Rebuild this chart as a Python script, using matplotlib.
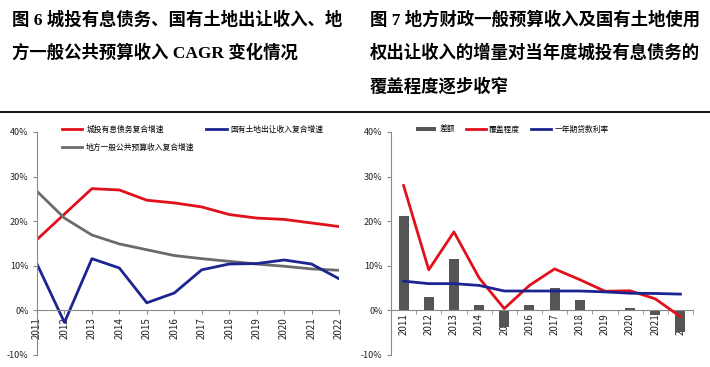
import matplotlib

matplotlib.use("Agg")
import matplotlib.pyplot as plt
import numpy as np
from matplotlib.ticker import FuncFormatter

plt.rcParams["font.family"] = ["Noto Sans CJK SC", "DejaVu Sans"]

years = ["2011", "2012", "2013", "2014", "2015", "2016",
         "2017", "2018", "2019", "2020", "2021", "2022"]

# 图6: CAGR (%)
debt_cagr = [15.9, 21.6, 27.3, 27.0, 24.7, 24.1, 23.2, 21.5, 20.7, 20.4, 19.6, 18.8]
land_cagr = [10.4, -2.7, 11.6, 9.5, 1.7, 3.9, 9.1, 10.4, 10.5, 11.3, 10.4, 7.1]
budget_cagr = [26.7, 20.7, 16.9, 14.9, 13.6, 12.3, 11.6, 11.0, 10.4, 9.9, 9.3, 9.0]

# 图7 (%)
gap = [21.2, 3.0, 11.6, 1.3, -3.7, 1.3, 5.0, 2.4, 0.05, 0.5, -1.1, -4.8]
coverage = [28.0, 9.1, 17.6, 7.3, 0.4, 5.6, 9.3, 6.9, 4.3, 4.4, 2.6, -1.4]
loan_rate = [6.56, 6.0, 6.0, 5.6, 4.35, 4.35, 4.35, 4.35, 4.15, 3.85, 3.80, 3.65]

RED = "#e0101c"
BLUE = "#1c2490"
GRAY = "#6b6b6b"
BAR = "#555555"
AXIS = "#8a8a8a"

title_font = dict(family=["Liberation Serif", "Noto Sans CJK SC"],
                  fontweight="bold", fontsize=12.5, color="black", va="center")

fig = plt.figure(figsize=(7.1, 3.67), dpi=100)
W, H = 710, 367


def fy(py):
    return 1 - py / H


fig.text(12 / W, fy(20), "图 6 城投有息债务、国有土地出让收入、地", **title_font)
fig.text(12 / W, fy(53), "方一般公共预算收入 CAGR 变化情况", **title_font)
fig.text(370 / W, fy(20), "图 7 地方财政一般预算收入及国有土地使用", **title_font)
fig.text(370 / W, fy(53), "权出让收入的增量对当年度城投有息债务的", **title_font)
fig.text(370 / W, fy(87), "覆盖程度逐步收窄", **title_font)

fig.add_artist(plt.Line2D([0, 1], [fy(112), fy(112)], color="black", lw=1.3))

pct = FuncFormatter(lambda v, p: f"{v:.0f}%")


def style_axes(ax):
    for s in ("top", "right"):
        ax.spines[s].set_visible(False)
    ax.spines["left"].set_color(AXIS)
    ax.spines["bottom"].set_color(AXIS)
    ax.spines["bottom"].set_position(("data", 0))
    ax.set_ylim(-10, 40)
    ax.set_yticks([-10, 0, 10, 20, 30, 40])
    ax.yaxis.set_major_formatter(pct)
    ax.tick_params(axis="y", labelsize=6.5, direction="out", length=3,
                   color=AXIS, labelcolor="#222222", pad=3)
    ax.tick_params(axis="x", labelsize=7, labelrotation=90, direction="out",
                   length=3, color=AXIS, labelcolor="#222222", pad=2)
    ax.set_facecolor("none")


# left chart
ax1 = fig.add_axes([37 / W, fy(355), (339 - 37) / W, (355 - 132) / H])
x = np.arange(len(years))
ax1.plot(x, debt_cagr, color=RED, lw=2, label="城投有息债务复合增速")
ax1.plot(x, budget_cagr, color=GRAY, lw=2, label="地方一般公共预算收入复合增速")
ax1.plot(x, land_cagr, color=BLUE, lw=2, label="国有土地出让收入复合增速")
ax1.set_xlim(0, 11)
ax1.set_xticks(x)
ax1.set_xticklabels(years)
style_axes(ax1)
ax1.legend(loc="upper left", bbox_to_anchor=(0.06, 1.06), ncol=2, fontsize=5.6,
           frameon=False, handlelength=2.6, handletextpad=0.5,
           columnspacing=1.5, labelspacing=1.3)

# right chart
ax2 = fig.add_axes([391 / W, fy(355), (693 - 391) / W, (355 - 132) / H])
bars = ax2.bar(x, gap, width=0.4, color=BAR, label="差额", zorder=2)
l1, = ax2.plot(x, coverage, color=RED, lw=2, label="覆盖程度", zorder=3)
l2, = ax2.plot(x, loan_rate, color=BLUE, lw=2, label="一年期贷款利率", zorder=3)
ax2.set_xlim(-0.5, 11.5)
ax2.set_xticks(x)
ax2.set_xticklabels(years)
ax2.set_xticks(np.arange(-0.5, 12, 1), minor=True)
style_axes(ax2)
ax2.tick_params(axis="x", which="major", length=0)
ax2.tick_params(axis="x", which="minor", length=3, color=AXIS)
ax2.legend(handles=[bars, l1, l2], loc="upper left", bbox_to_anchor=(0.06, 1.06),
           ncol=3, fontsize=5.6, frameon=False, handlelength=2.6,
           handletextpad=0.4, columnspacing=1.4, handleheight=0.5)

fig.savefig("out.png", dpi=100)
